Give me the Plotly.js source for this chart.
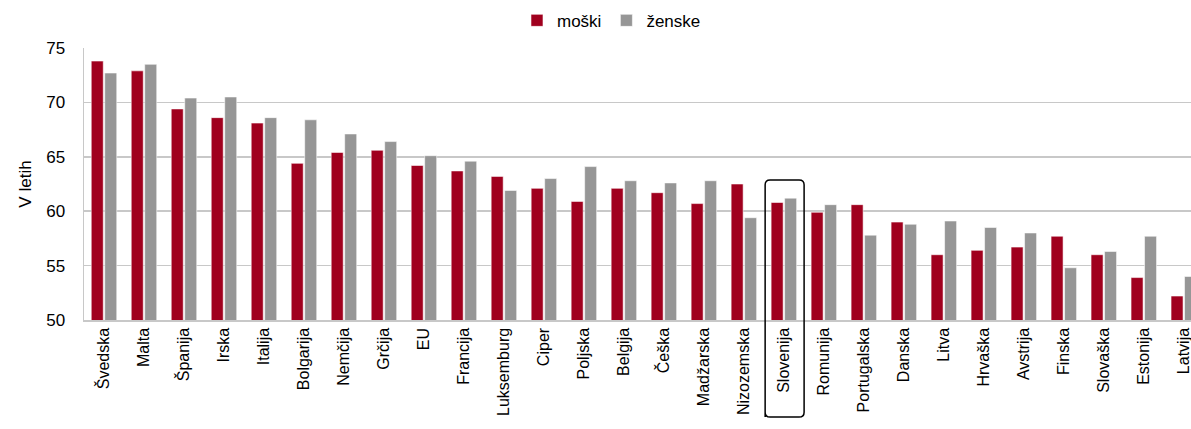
<!DOCTYPE html>
<html>
<head>
<meta charset="utf-8">
<script src="https://cdn.plot.ly/plotly-3.0.1.min.js"></script>
<style>
html,body{margin:0;padding:0;background:#fff;overflow:hidden;}
#chart{width:1191px;height:429px;}
</style>
</head>
<body>
<div id="chart"></div>
<script>
var categories = ["Švedska","Malta","Španija","Irska","Italija","Bolgarija","Nemčija","Grčija","EU","Francija","Luksemburg","Ciper","Poljska","Belgija","Češka","Madžarska","Nizozemska","Slovenija","Romunija","Portugalska","Danska","Litva","Hrvaška","Avstrija","Finska","Slovaška","Estonija","Latvija"];
var moski  = [73.8,72.9,69.4,68.6,68.1,64.4,65.4,65.6,64.2,63.7,63.2,62.1,60.9,62.1,61.7,60.7,62.5,60.8,59.9,60.6,59.0,56.0,56.4,56.7,57.7,56.0,53.9,52.2];
var zenske = [72.7,73.5,70.4,70.5,68.6,68.4,67.1,66.4,65.1,64.6,61.9,63.0,64.1,62.8,62.6,62.8,59.4,61.2,60.6,57.8,58.8,59.1,58.5,58.0,54.8,56.3,57.7,54.0];
var seriesNames = ["moški","ženske"];
var yTicks = [50,55,60,65,70,75];

var FONT = "Liberation Sans, Arial, sans-serif";
var traces = [
  {type:"bar", name:seriesNames[0], x:categories, y:moski,
   marker:{color:"#A0001E", line:{color:"rgba(255,255,255,0.55)", width:1}}},
  {type:"bar", name:seriesNames[1], x:categories, y:zenske,
   marker:{color:"#969696", line:{color:"rgba(255,255,255,0.55)", width:1}}}
];

var layout = {
  width:1191, height:429,
  margin:{l:84, r:0, t:48, b:109, pad:0},
  paper_bgcolor:"#fff", plot_bgcolor:"#fff",
  font:{family:FONT, size:16, color:"#000"},
  barmode:"group", bargap:0.325, bargroupgap:0.11,
  showlegend:true,
  legend:{orientation:"h", x:0.4765, xanchor:"center", y:1.10, yanchor:"middle",
          font:{family:FONT, size:17, color:"#000"}, itemwidth:30, traceorder:"normal"},
  xaxis:{type:"category", range:[-0.5, 27.18], tickangle:-90,
         tickfont:{family:FONT, size:16, color:"#000"},
         showline:true, linecolor:"#c8c8c8", linewidth:1.5,
         showgrid:false, ticks:"", automargin:false},
  yaxis:{range:[50,75], tickvals:yTicks, ticktext:yTicks.map(String),
         tickfont:{family:FONT, size:17, color:"#000"},
         showgrid:true, gridcolor:"#c8c8c8", gridwidth:1.5,
         showline:true, linecolor:"#c8c8c8", linewidth:1.5,
         zeroline:false, ticks:"outside", ticklen:14, tickcolor:"rgba(0,0,0,0)", automargin:false,
         title:{text:"V letih", font:{family:FONT, size:17, color:"#000"}, standoff:10}},
  shapes:[
    {type:"path", xref:"paper", yref:"paper",
     path:"M 0.6153 -0.357 L 0.6153 0.497 Q 0.6153 0.515 0.6198 0.515 L 0.6460 0.515 Q 0.6505 0.515 0.6505 0.497 L 0.6505 -0.339 Q 0.6505 -0.357 0.6460 -0.357 L 0.6198 -0.357 Q 0.6153 -0.357 0.6153 -0.339 Z",
     line:{color:"#000", width:1.5}, fillcolor:"rgba(0,0,0,0)"}
  ]
};

Plotly.newPlot("chart", traces, layout, {displayModeBar:false, staticPlot:true});
</script>
</body>
</html>
